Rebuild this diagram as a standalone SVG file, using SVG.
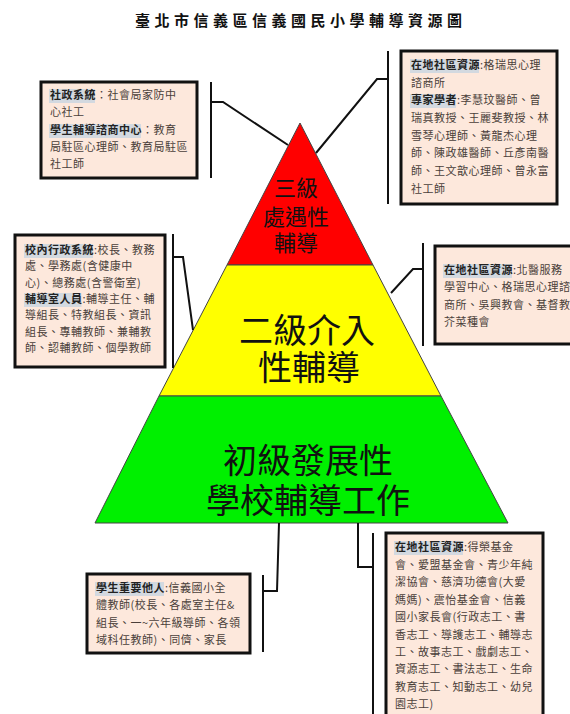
<svg xmlns="http://www.w3.org/2000/svg" width="570" height="714" viewBox="0 0 570 714">
<style>
.box{fill:#fde8dc;stroke:#111;stroke-width:3}
.hl{fill:#d3d9e0}
.t{font-family:"Noto Sans CJK TC","Noto Sans CJK SC",sans-serif;font-size:11px;letter-spacing:0.5px;fill:#4a3f3a}
.b{font-weight:bold;fill:#222}
.conn{fill:none;stroke:#111;stroke-width:2}
.brk{fill:none;stroke:#111;stroke-width:2}
.big{font-family:"Noto Sans CJK TC","Noto Sans CJK SC",sans-serif;fill:#111;text-anchor:middle}
.lvl{stroke:#444;stroke-width:1}
</style>
<rect width="570" height="714" fill="#fff"/>
<text x="135" y="26" textLength="327" lengthAdjust="spacing" style="font-family:'Noto Sans CJK TC','Noto Sans CJK SC',sans-serif;font-size:15px;font-weight:bold;fill:#111">臺北市信義區信義國民小學輔導資源圖</text>

<g id="pyramid">
<g id="level3">
<polygon class="lvl" points="300,123 373,265 227,265" fill="#ff0000"/>
<text class="big" font-size="22" fill="#220000"><tspan x="296" y="196">三級</tspan><tspan x="296" y="225">處遇性</tspan><tspan x="296" y="251">輔導</tspan></text>
</g>
<g id="level2">
<polygon class="lvl" points="227,265 373,265 441,396 159,396" fill="#ffff00"/>
<text class="big" font-size="34"><tspan x="307" y="343">二級介入</tspan><tspan x="309" y="380">性輔導</tspan></text>
</g>
<g id="level1">
<polygon class="lvl" points="159,396 441,396 508,523 95,523" fill="#00f000"/>
<text class="big" font-size="34"><tspan x="308" y="473">初級發展性</tspan><tspan x="308" y="513">學校輔導工作</tspan></text>
</g>
</g>

<g id="connectors">
<line class="brk" x1="211" y1="82" x2="211" y2="178"/>
<polyline class="conn" points="211,102 223,102 288,145"/>
<line class="brk" x1="388" y1="51" x2="388" y2="204"/>
<polyline class="conn" points="388,79 377,79 316,153"/>
<line class="brk" x1="173" y1="234" x2="173" y2="368"/>
<polyline class="conn" points="173,257 183,257 193,330"/>
<line class="brk" x1="423" y1="243" x2="423" y2="346"/>
<polyline class="conn" points="423,269 413,269 391,293"/>
<line class="brk" x1="263" y1="575" x2="263" y2="652"/>
<polyline class="conn" points="263,591 277,591 279,523"/>
<line class="brk" x1="373" y1="533" x2="373" y2="714"/>
<polyline class="conn" points="373,567 358,567 358,523"/>
</g>

<g id="box-social">
<rect class="box" x="41" y="82" width="156" height="96"/>
<rect class="hl" x="49" y="89" width="46" height="14"/>
<rect class="hl" x="49" y="124" width="92" height="14"/>
<text class="t" x="50" y="99"><tspan class="b">社政系統</tspan>：社會局家防中</text>
<text class="t" x="50" y="116">心社工</text>
<text class="t" x="50" y="134"><tspan class="b">學生輔導諮商中心</tspan>：教育</text>
<text class="t" x="50" y="151">局駐區心理師、教育局駐區</text>
<text class="t" x="50" y="168">社工師</text>
</g>

<g id="box-experts">
<rect class="box" x="401" y="51" width="156" height="153"/>
<rect class="hl" x="410" y="59" width="69" height="14"/>
<rect class="hl" x="410" y="94" width="46" height="14"/>
<text class="t" x="411" y="69"><tspan class="b">在地社區資源</tspan>:格瑞思心理</text>
<text class="t" x="411" y="87">諮商所</text>
<text class="t" x="411" y="104"><tspan class="b">專家學者</tspan>:李慧玟醫師、曾</text>
<text class="t" x="411" y="122">瑞真教授、王麗斐教授、林</text>
<text class="t" x="411" y="140">雪琴心理師、黃龍杰心理</text>
<text class="t" x="411" y="157">師、陳政雄醫師、丘彥南醫</text>
<text class="t" x="411" y="175">師、王文歆心理師、曾永富</text>
<text class="t" x="411" y="193">社工師</text>
</g>

<g id="box-school">
<rect class="box" x="15" y="235" width="150" height="132"/>
<rect class="hl" x="24" y="244" width="69" height="14"/>
<rect class="hl" x="24" y="293" width="57.5" height="14"/>
<text class="t" x="25" y="254"><tspan class="b">校內行政系統</tspan>:校長、教務</text>
<text class="t" x="25" y="270">處、學務處(含健康中</text>
<text class="t" x="25" y="287">心)、總務處(含警衛室)</text>
<text class="t" x="25" y="303"><tspan class="b">輔導室人員</tspan>:輔導主任、輔</text>
<text class="t" x="25" y="319">導組長、特教組長、資訊</text>
<text class="t" x="25" y="336">組長、專輔教師、兼輔教</text>
<text class="t" x="25" y="352">師、認輔教師、個學教師</text>
</g>

<g id="box-community2">
<rect class="box" x="435" y="246" width="145" height="98"/>
<rect class="hl" x="443" y="264" width="69" height="14"/>
<text class="t" x="444" y="274"><tspan class="b">在地社區資源</tspan>:北醫服務</text>
<text class="t" x="444" y="291">學習中心、格瑞思心理諮</text>
<text class="t" x="444" y="309">商所、吳興教會、基督教</text>
<text class="t" x="444" y="326">芥菜種會</text>
</g>

<g id="box-others">
<rect class="box" x="87" y="574" width="163" height="79"/>
<rect class="hl" x="95" y="582" width="69" height="14"/>
<text class="t" x="96" y="592"><tspan class="b">學生重要他人</tspan>:信義國小全</text>
<text class="t" x="96" y="609">體教師(校長、各處室主任&amp;</text>
<text class="t" x="96" y="627">組長、一~六年級導師、各領</text>
<text class="t" x="96" y="644">域科任教師)、同儕、家長</text>
</g>

<g id="box-community1">
<rect class="box" x="386" y="533" width="157" height="190"/>
<rect class="hl" x="394" y="541" width="69" height="14"/>
<text class="t" x="395" y="551"><tspan class="b">在地社區資源</tspan>:得榮基金</text>
<text class="t" x="395" y="569">會、愛盟基金會、青少年純</text>
<text class="t" x="395" y="586">潔協會、慈濟功德會(大愛</text>
<text class="t" x="395" y="604">媽媽)、震怡基金會、信義</text>
<text class="t" x="395" y="621">國小家長會(行政志工、書</text>
<text class="t" x="395" y="639">香志工、導護志工、輔導志</text>
<text class="t" x="395" y="656">工、故事志工、戲劇志工、</text>
<text class="t" x="395" y="673">資源志工、書法志工、生命</text>
<text class="t" x="395" y="691">教育志工、知動志工、幼兒</text>
<text class="t" x="395" y="708">園志工)</text>
</g>
</svg>
